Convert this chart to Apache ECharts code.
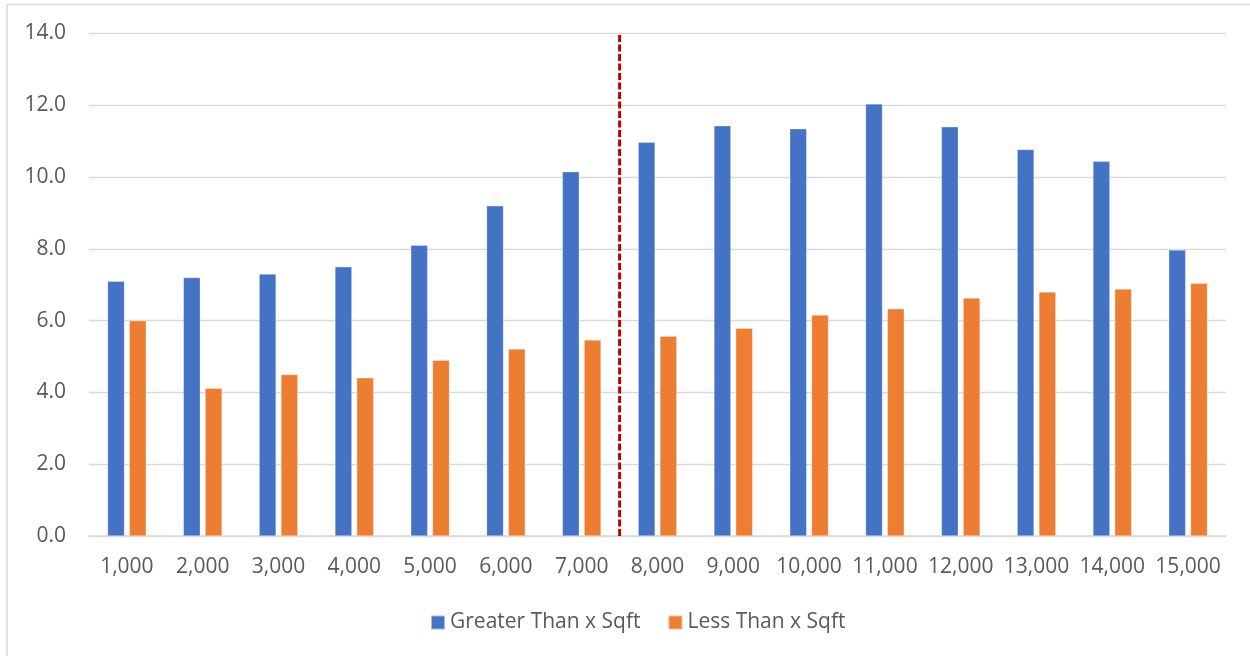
<!DOCTYPE html>
<html>
<head>
<meta charset="utf-8">
<script src="https://cdn.jsdelivr.net/npm/echarts@6/dist/echarts.min.js"></script>
<style>
  html, body { margin: 0; padding: 0; background: #fff; }
  #chart { width: 1250px; height: 656px; }
</style>
</head>
<body>
<div id="chart"></div>
<script>
// Lot size buckets (sqft)
const categories = ['1,000', '2,000', '3,000', '4,000', '5,000', '6,000', '7,000', '8,000',
  '9,000', '10,000', '11,000', '12,000', '13,000', '14,000', '15,000'];

const greaterThan = [7.1, 7.2, 7.3, 7.5, 8.1, 9.2, 10.15, 10.97, 11.43, 11.35, 12.04, 11.4, 10.77, 10.44, 7.97];
const lessThan = [6.0, 4.12, 4.5, 4.41, 4.9, 5.21, 5.46, 5.57, 5.79, 6.16, 6.33, 6.63, 6.8, 6.88, 7.04];

const seriesNames = ['Greater Than x Sqft', 'Less Than x Sqft'];
const yTicks = { min: 0, max: 14, interval: 2 };

// Divider sits on the boundary after the 7th bucket
const dividerAt = 7;

const textColor = '#595959';
const gridColor = '#d9d9d9';
const font = '"Open Sans", Lato, sans-serif';

const chart = echarts.init(document.getElementById('chart'), null, { renderer: 'canvas' });

chart.setOption({
  animation: false,
  backgroundColor: '#fff',
  textStyle: { fontFamily: font },
  graphic: [{
    type: 'rect',
    shape: { x: 7, y: 4.5, width: 1260, height: 670 },
    style: { fill: 'none', stroke: gridColor, lineWidth: 1.5 },
    silent: true, z: -1
  }],
  grid: { left: 89, right: 24, top: 33.5, bottom: 120, containLabel: false },
  legend: {
    data: seriesNames,
    top: 607,
    left: 425,
    icon: 'rect',
    itemWidth: 14,
    itemHeight: 14,
    itemGap: 27,
    textStyle: { color: textColor, fontSize: 21, fontFamily: font }
  },
  xAxis: [{
    type: 'category',
    data: categories,
    axisLine: { lineStyle: { color: gridColor, width: 1.5 } },
    axisTick: { show: false },
    axisLabel: { color: textColor, fontSize: 21, margin: 20.5, fontFamily: font, interval: 0 }
  }, {
    type: 'value',
    min: 0,
    max: categories.length,
    show: false
  }],
  yAxis: {
    type: 'value',
    min: yTicks.min,
    max: yTicks.max,
    interval: yTicks.interval,
    axisLine: { show: false },
    axisTick: { show: false },
    splitLine: { lineStyle: { color: gridColor, width: 1.3 } },
    axisLabel: {
      color: textColor, fontSize: 21, margin: 23, fontFamily: font,
      formatter: v => v.toFixed(1)
    }
  },
  series: [{
    name: seriesNames[0],
    type: 'bar',
    data: greaterThan,
    barWidth: 17,
    barGap: '28%',
    itemStyle: { color: '#4472C4', borderColor: 'rgba(255,255,255,0.5)', borderWidth: 0.6 }
  }, {
    name: seriesNames[1],
    type: 'bar',
    data: lessThan,
    barWidth: 17,
    barGap: '28%',
    itemStyle: { color: '#ED7D31', borderColor: 'rgba(255,255,255,0.5)', borderWidth: 0.6 }
  }, {
    name: 'divider',
    type: 'line',
    xAxisIndex: 1,
    data: [[dividerAt, yTicks.min], [dividerAt, yTicks.max]],
    symbol: 'none',
    silent: true,
    z: 5,
    lineStyle: { color: '#C00000', width: 3, type: [7, 2.5] }
  }]
});
</script>
</body>
</html>
